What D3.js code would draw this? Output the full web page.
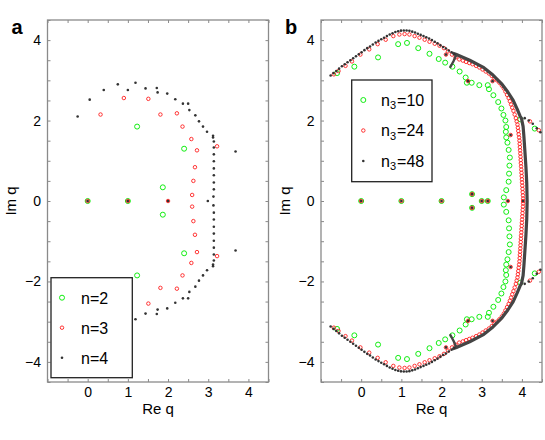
<!DOCTYPE html>
<html><head><meta charset="utf-8">
<script src="https://cdn.jsdelivr.net/npm/d3@7"></script>
<style>
body{margin:0;background:#fff}
text{font-family:"Liberation Sans",Arial,Helvetica,sans-serif}
</style>
</head><body>
<svg id="c" width="545" height="440"></svg>
<script>
// ---------------- data ----------------
const xDomain = [-1, 4.5];
const yDomain = [-4.5, 4.5];
const xTickMarks = [-1,-0.5,0,0.5,1,1.5,2,2.5,3,3.5,4,4.5];
const yTickMarks = [-4.5,-4,-3.5,-3,-2.5,-2,-1.5,-1,-0.5,0,0.5,1,1.5,2,2.5,3,3.5,4,4.5];
const xTickLabels = [0,1,2,3,4];
const yTickLabels = [-4,-2,0,2,4];

const legendA = ["n=2","n=3","n=4"];
const legendB = ["10","24","48"];

// panel a : roots [Re, Im]
const aN2 = [[0,0],[1,0],[1.23,1.85],[1.23,-1.85],[2.40,1.30],[2.40,-1.30],[1.87,0.34],[1.87,-0.34]];
const aN3 = [[0,0],[1,0],[2,0],
 [0.32,2.15],[0.90,2.56],[1.51,2.54],[1.81,2.15],[2.22,2.18],[2.36,1.85],[2.58,1.54],[2.72,1.26],[3.22,1.36],[2.67,0.84],[2.63,0.50],[2.60,0.15],
 [0.32,-2.15],[0.90,-2.56],[1.51,-2.55],[1.81,-2.16],[2.22,-2.18],[2.36,-1.85],[2.58,-1.54],[2.72,-1.27],[3.22,-1.37],[2.67,-0.84],[2.63,-0.50],[2.60,-0.14]];
const aN4 = [[0,0],[1,0],[2,0],[2.99,0],
 [-0.25,2.10],[0.05,2.52],[0.40,2.76],[0.75,2.90],[1.00,2.76],[1.19,2.94],[1.44,2.80],[1.72,2.81],[1.74,2.70],[1.98,2.67],[2.18,2.53],[2.37,2.42],[2.50,2.42],[2.53,2.26],[2.68,2.13],[2.77,1.98],[2.87,1.85],[2.97,1.72],[3.12,1.62],[3.12,1.58],[3.14,1.48],[3.14,1.33],[3.14,1.16],[3.14,0.99],[3.14,0.81],[3.14,0.64],[3.14,0.46],[3.14,0.29],[3.13,0.11],[3.68,1.23],
 [-0.25,-2.10],[0.05,-2.52],[0.40,-2.76],[0.75,-2.90],[1.00,-2.76],[1.19,-2.94],[1.44,-2.80],[1.72,-2.81],[1.74,-2.70],[1.98,-2.67],[2.18,-2.53],[2.37,-2.42],[2.50,-2.42],[2.53,-2.26],[2.68,-2.13],[2.77,-1.98],[2.87,-1.85],[2.97,-1.72],[3.12,-1.62],[3.12,-1.58],[3.14,-1.48],[3.14,-1.33],[3.14,-1.16],[3.14,-0.99],[3.14,-0.81],[3.14,-0.64],[3.14,-0.46],[3.14,-0.29],[3.13,-0.11],[3.68,-1.23]];

// panel b : n3 = 10
const bN10 = [[0,0],[1,0],[2,0],[3.0,0],[3.15,0],[2.76,0.17],[2.76,-0.17],
 [-0.60,3.18],[-0.17,3.34],[0.42,3.57],[0.92,3.90],[1.14,3.93],[1.42,3.80],[1.70,3.66],[1.93,3.53],[2.09,3.44],[2.27,3.34],[2.45,3.22],[2.60,3.07],[2.63,2.94],[2.75,2.94],[2.94,2.88],[3.15,2.88],[3.18,2.78],[3.29,2.63],[3.41,2.46],[3.49,2.30],[3.54,2.14],[3.59,2.00],[3.61,1.84],[3.60,1.72],[3.61,1.58],[3.64,1.45],[3.67,1.27],[3.70,1.08],[3.69,0.88],[3.68,0.68],[3.67,0.48],[3.61,0.27],[3.55,0.09],[3.96,2.03],[4.32,1.80],
 [-0.60,-3.18],[-0.17,-3.34],[0.42,-3.57],[0.92,-3.90],[1.14,-3.93],[1.42,-3.80],[1.70,-3.66],[1.93,-3.53],[2.09,-3.44],[2.27,-3.34],[2.45,-3.22],[2.60,-3.07],[2.63,-2.94],[2.75,-2.94],[2.94,-2.88],[3.15,-2.88],[3.18,-2.78],[3.29,-2.63],[3.41,-2.46],[3.49,-2.30],[3.54,-2.14],[3.59,-2.00],[3.61,-1.84],[3.60,-1.72],[3.61,-1.58],[3.64,-1.45],[3.67,-1.27],[3.70,-1.08],[3.69,-0.88],[3.68,-0.68],[3.67,-0.48],[3.61,-0.27],[3.55,-0.09],[3.96,-2.03],[4.32,-1.80]];

// panel b : n3 = 24
const bN24 = [[0,0],[1,0],[2,0],[3.0,0],[3.15,0],[2.76,0.17],[2.76,-0.17],[3.65,0],[4.03,0],
 [2.11,3.64],[2.66,2.98],[3.27,2.98],[3.72,1.64],[2.11,-3.64],[2.66,-2.98],[3.27,-2.98],[3.72,-1.64],
 [4.20,1.98],[4.42,1.76],[4.20,-1.98],[4.42,-1.76],
 [-0.68,3.15],[-0.565,3.23],[-0.39,3.36],[-0.23,3.47],[-0.02,3.64],[0.20,3.77],[0.41,3.90],[0.61,4.01],[0.80,4.10],[0.95,4.14],[1.08,4.15],[1.20,4.14],[1.33,4.10],[1.45,4.06],[1.58,4.01],[1.70,3.96],[1.83,3.91],[1.95,3.86],[2.06,3.80],[2.16,3.72],[2.26,3.64],[2.35,3.57],[2.44,3.52],[2.53,3.49],[2.61,3.46],[2.69,3.43],[2.77,3.40],[2.86,3.36],[2.94,3.32],[3.02,3.27],[3.10,3.22],[3.18,3.17],[3.25,3.11],[3.32,3.05],[3.38,3.00],[3.44,2.94],[3.50,2.87],[3.55,2.80],[3.59,2.72],[3.63,2.64],[3.67,2.56],[3.70,2.48],[3.73,2.40],[3.76,2.32],[3.79,2.24],[3.82,2.15],[3.85,2.06],[3.87,1.98],[3.89,1.90],[3.90,1.82],[3.91,1.74],[3.92,1.66],[3.93,1.58],[3.94,1.50],[3.945,1.42],[3.95,1.34],[3.955,1.26],[3.96,1.18],[3.965,1.10],[3.97,1.02],[3.975,0.94],[3.98,0.86],[3.985,0.78],[3.99,0.70],[3.995,0.62],[4.00,0.54],[4.005,0.46],[4.01,0.38],[4.015,0.30],[4.02,0.22],[4.025,0.14],[4.03,0.06],
 [-0.68,-3.15],[-0.565,-3.23],[-0.39,-3.36],[-0.23,-3.47],[-0.02,-3.64],[0.20,-3.77],[0.41,-3.90],[0.61,-4.01],[0.80,-4.10],[0.95,-4.14],[1.08,-4.15],[1.20,-4.14],[1.33,-4.10],[1.45,-4.06],[1.58,-4.01],[1.70,-3.96],[1.83,-3.91],[1.95,-3.86],[2.06,-3.80],[2.16,-3.72],[2.26,-3.64],[2.35,-3.57],[2.44,-3.52],[2.53,-3.49],[2.61,-3.46],[2.69,-3.43],[2.77,-3.40],[2.86,-3.36],[2.94,-3.32],[3.02,-3.27],[3.10,-3.22],[3.18,-3.17],[3.25,-3.11],[3.32,-3.05],[3.38,-3.00],[3.44,-2.94],[3.50,-2.87],[3.55,-2.80],[3.59,-2.72],[3.63,-2.64],[3.67,-2.56],[3.70,-2.48],[3.73,-2.40],[3.76,-2.32],[3.79,-2.24],[3.82,-2.15],[3.85,-2.06],[3.87,-1.98],[3.89,-1.90],[3.90,-1.82],[3.91,-1.74],[3.92,-1.66],[3.93,-1.58],[3.94,-1.50],[3.945,-1.42],[3.95,-1.34],[3.955,-1.26],[3.96,-1.18],[3.965,-1.10],[3.97,-1.02],[3.975,-0.94],[3.98,-0.86],[3.985,-0.78],[3.99,-0.70],[3.995,-0.62],[4.00,-0.54],[4.005,-0.46],[4.01,-0.38],[4.015,-0.30],[4.02,-0.22],[4.025,-0.14],[4.03,-0.06]];

// panel b : n3 = 48 (separated dots)
const bN48Dots = [[0,0],[1,0],[2,0],[3.0,0],[3.15,0],[2.76,0.17],[2.76,-0.17],[3.65,0],[4.03,0],
 [2.11,3.64],[2.66,2.98],[3.27,2.98],[3.72,1.64],[2.11,-3.64],[2.66,-2.98],[3.27,-2.98],[3.72,-1.64],
 [4.07,2.06],[4.17,2.00],[4.27,1.92],[4.37,1.81],[4.46,1.71],
 [4.07,-2.06],[4.17,-2.00],[4.27,-1.92],[4.37,-1.81],[4.46,-1.71],
 [-0.76,3.12],[-0.69,3.18],[-0.62,3.23],[-0.55,3.29],[-0.48,3.35],[-0.41,3.40],[-0.34,3.45],[-0.27,3.50],[-0.20,3.55],[-0.13,3.60],[-0.06,3.65],[0.01,3.70],[0.08,3.75],[0.15,3.80],[0.22,3.84],[0.29,3.89],[0.36,3.94],[0.43,3.98],[0.50,4.02],[0.57,4.06],[0.64,4.10],[0.71,4.14],[0.78,4.17],[0.85,4.20],[0.92,4.22],[0.99,4.235],[1.06,4.24],[1.13,4.24],[1.20,4.23],[1.27,4.21],[1.34,4.19],[1.41,4.16],[1.48,4.13],[1.55,4.10],[1.62,4.07],[1.69,4.04],[1.76,4.00],[1.83,3.96],[1.90,3.92],[1.97,3.87],[2.04,3.83],[2.11,3.79],[2.18,3.74],[2.25,3.70],[2.32,3.65],
 [-0.76,-3.12],[-0.69,-3.18],[-0.62,-3.23],[-0.55,-3.29],[-0.48,-3.35],[-0.41,-3.40],[-0.34,-3.45],[-0.27,-3.50],[-0.20,-3.55],[-0.13,-3.60],[-0.06,-3.65],[0.01,-3.70],[0.08,-3.75],[0.15,-3.80],[0.22,-3.84],[0.29,-3.89],[0.36,-3.94],[0.43,-3.98],[0.50,-4.02],[0.57,-4.06],[0.64,-4.10],[0.71,-4.14],[0.78,-4.17],[0.85,-4.20],[0.92,-4.22],[0.99,-4.235],[1.06,-4.24],[1.13,-4.24],[1.20,-4.23],[1.27,-4.21],[1.34,-4.19],[1.41,-4.16],[1.48,-4.13],[1.55,-4.10],[1.62,-4.07],[1.69,-4.04],[1.76,-4.00],[1.83,-3.96],[1.90,-3.92],[1.97,-3.87],[2.04,-3.83],[2.11,-3.79],[2.18,-3.74],[2.25,-3.70],[2.32,-3.65]];

// panel b : n3 = 48 (roots so dense they merge into curves)
const bN48StubUp = [[2.22,3.33],[2.30,3.48],[2.37,3.64]];
const bN48StubDown = [[2.22,-3.33],[2.30,-3.48],[2.37,-3.64]];
const bN48Dense = [[2.30,3.67],[2.37,3.64],[2.70,3.50],[3.03,3.33],[3.28,3.13],[3.49,2.92],[3.65,2.71],[3.78,2.51],[3.88,2.29],[3.95,2.12],[3.99,2.05],[4.03,1.85],[4.05,1.60],[4.07,1.30],[4.10,0.85],[4.12,0.45],[4.13,0],
 [4.12,-0.45],[4.10,-0.85],[4.07,-1.30],[4.05,-1.60],[4.03,-1.85],[3.99,-2.05],[3.95,-2.12],[3.88,-2.29],[3.78,-2.51],[3.65,-2.71],[3.49,-2.92],[3.28,-3.13],[3.03,-3.33],[2.70,-3.50],[2.37,-3.64],[2.30,-3.67]];

// ---------------- drawing ----------------
const svg = d3.select("#c");
const T = 20, B = 382;
const fmt = d3.format("");
const frameCol = "#8a8a8a";
const greenCol = "#11ee11", redCol = "#ff1f1f", grayCol = "#333333";

function drawGreen(g, pts, x, y){
  g.selectAll(null).data(pts).join("circle")
   .attr("cx", d=>x(d[0])).attr("cy", d=>y(d[1])).attr("r", 2.5)
   .attr("fill","none").attr("stroke",greenCol).attr("stroke-width",1);
}
function drawRed(g, pts, x, y){
  g.selectAll(null).data(pts).join("circle")
   .attr("cx", d=>x(d[0])).attr("cy", d=>y(d[1])).attr("r", 1.75)
   .attr("fill","none").attr("stroke",redCol).attr("stroke-width",0.9);
}
function drawGray(g, pts, x, y){
  g.selectAll(null).data(pts).join("circle")
   .attr("cx", d=>x(d[0])).attr("cy", d=>y(d[1])).attr("r", 1.3)
   .attr("fill",grayCol);
}

function panel(id, L, R, letter, imX){
  const x = d3.scaleLinear().domain(xDomain).range([L, R]);
  const y = d3.scaleLinear().domain(yDomain).range([B, T]);
  const g = svg.append("g");
  g.append("clipPath").attr("id","clip"+id).append("rect")
    .attr("x",L).attr("y",T).attr("width",R-L).attr("height",B-T);

  const axes = [
    [d3.axisBottom(x).tickValues(xTickMarks).tickFormat(d=>xTickLabels.includes(d)?fmt(d):""), `translate(0,${B})`],
    [d3.axisTop(x).tickValues(xTickMarks).tickFormat(""), `translate(0,${T})`],
    [d3.axisLeft(y).tickValues(yTickMarks).tickFormat(d=>yTickLabels.includes(d)?fmt(d):""), `translate(${L},0)`],
    [d3.axisRight(y).tickValues(yTickMarks).tickFormat(""), `translate(${R},0)`]
  ];
  axes.forEach(([ax, tr], i)=>{
    ax.tickSize(-3).tickPadding(i===0?5:6.5);
    const ag = g.append("g").attr("transform",tr).call(ax);
    ag.select(".domain").remove();
    ag.selectAll(".tick line").attr("stroke",frameCol).attr("stroke-width",1);
    ag.selectAll("text").attr("font-size",14).attr("fill","#000")
      .attr("font-family","Liberation Sans, Arial, sans-serif");
  });
  g.append("rect").attr("x",L).attr("y",T).attr("width",R-L).attr("height",B-T)
    .attr("fill","none").attr("stroke",frameCol).attr("stroke-width",1.3);

  g.append("text").attr("x",(L+R)/2).attr("y",414).attr("text-anchor","middle")
    .attr("font-size",15).text("Re q");
  g.append("text").attr("transform",`translate(${imX},${(T+B)/2}) rotate(-90)`)
    .attr("text-anchor","middle").attr("font-size",15).text("Im q");
  g.append("text").attr("x",L-36).attr("y",34).attr("font-size",20)
    .attr("font-weight","bold").text(letter);

  const plot = g.append("g").attr("clip-path",`url(#clip${id})`);
  return {x, y, plot, g};
}

// ---- panel a ----
const pa = panel("a", 47.5, 268.5, "a", 16);
drawGreen(pa.plot, aN2, pa.x, pa.y);
drawRed(pa.plot, aN3, pa.x, pa.y);
drawGray(pa.plot, aN4, pa.x, pa.y);

const la = pa.g.append("g");
la.append("rect").attr("x",51).attr("y",277.7).attr("width",81.3).attr("height",100)
  .attr("fill","#fff").attr("stroke","#222").attr("stroke-width",1.3);
const rowsA = [297.7, 327.7, 357.7];
drawGreen(la, [[62,rowsA[0]]], d=>d, d=>d);
drawRed(la, [[62,rowsA[1]]], d=>d, d=>d);
drawGray(la, [[62,rowsA[2]]], d=>d, d=>d);
legendA.forEach((t,i)=>{
  la.append("text").attr("x",81).attr("y",rowsA[i]+5.8).attr("font-size",16).text(t);
});

// ---- panel b ----
const pb = panel("b", 321, 542, "b", 290);
drawGreen(pb.plot, bN10, pb.x, pb.y);
drawRed(pb.plot, bN24, pb.x, pb.y);
const ln = d3.line().x(d=>pb.x(d[0])).y(d=>pb.y(d[1]));
[bN48StubUp, bN48StubDown].forEach(s=>{
  pb.plot.append("path").attr("d",ln(s)).attr("fill","none")
    .attr("stroke","#454545").attr("stroke-width",2.4).attr("stroke-linecap","round");
});
pb.plot.append("path").attr("d",ln(bN48Dense)).attr("fill","none")
  .attr("stroke","#454545").attr("stroke-width",3.2).attr("stroke-linejoin","round").attr("stroke-linecap","round");
drawGray(pb.plot, bN48Dots, pb.x, pb.y);

const lb = pb.g.append("g");
lb.append("rect").attr("x",351.7).attr("y",80).attr("width",80.3).attr("height",101.7)
  .attr("fill","#fff").attr("stroke","#222").attr("stroke-width",1.3);
const rowsB = [100, 130.5, 161];
drawGreen(lb, [[363.3,rowsB[0]]], d=>d, d=>d);
drawRed(lb, [[363.3,rowsB[1]]], d=>d, d=>d);
drawGray(lb, [[363.3,rowsB[2]]], d=>d, d=>d);
legendB.forEach((t,i)=>{
  const tx = lb.append("text").attr("x",381).attr("y",rowsB[i]+5.8).attr("font-size",16);
  tx.append("tspan").text("n");
  tx.append("tspan").attr("font-size",11).attr("dy",3.5).text("3");
  tx.append("tspan").attr("dy",-3.5).attr("dx",1).text("="+t);
});
</script>
</body></html>
